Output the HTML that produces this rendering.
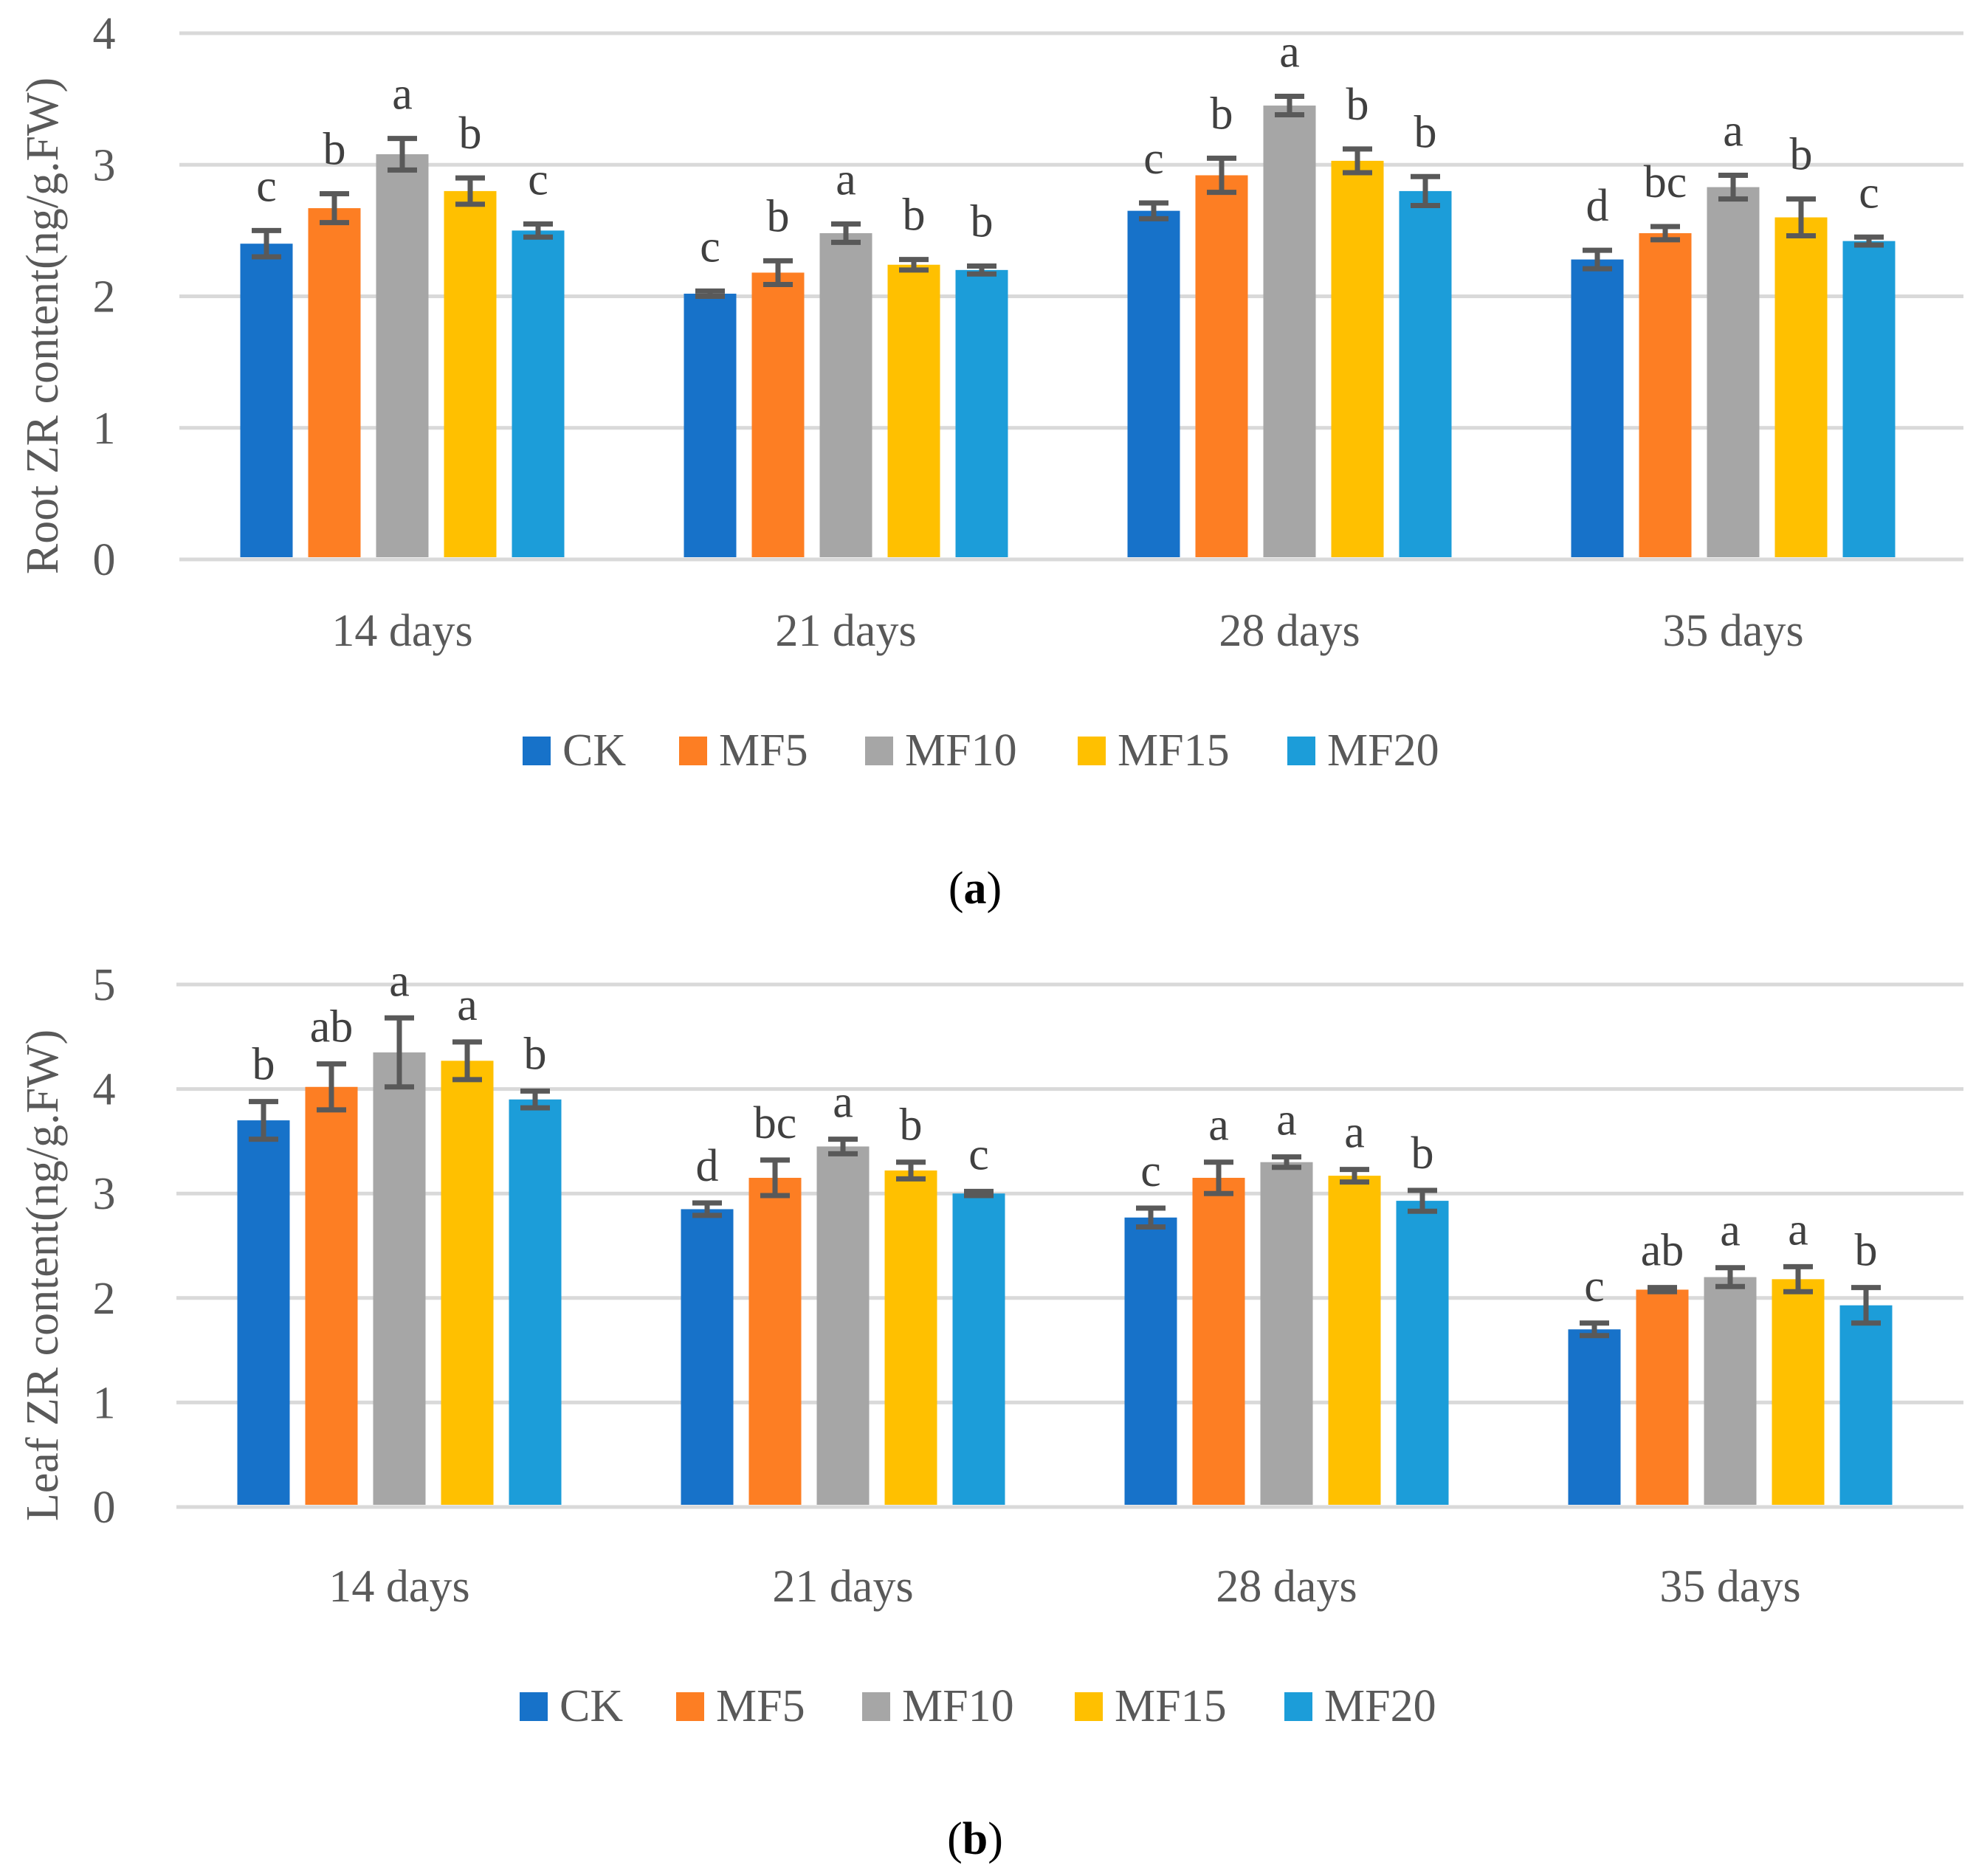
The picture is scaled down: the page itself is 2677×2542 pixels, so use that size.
<!DOCTYPE html>
<html><head><meta charset="utf-8"><style>
html,body{margin:0;padding:0;background:#fff}
svg{display:block;font-family:"Liberation Serif",serif}
</style></head><body>
<svg id="fig" width="2677" height="2542" viewBox="0 0 2677 2542" xmlns="http://www.w3.org/2000/svg"></svg>
<script>
const categories = ["14 days","21 days","28 days","35 days"];
const seriesNames = ["CK","MF5","MF10","MF15","MF20"];
const colors = ["#1772c9","#fd7e23","#a6a6a6","#ffc000","#1c9dd9"];
const rootVals = [[2.40,2.67,3.08,2.80,2.50],[2.02,2.18,2.48,2.24,2.20],[2.65,2.92,3.45,3.03,2.80],[2.28,2.48,2.83,2.60,2.42]];
const rootErr = [[0.10,0.11,0.12,0.10,0.05],[0.02,0.09,0.07,0.04,0.03],[0.06,0.13,0.07,0.09,0.11],[0.07,0.05,0.09,0.14,0.03]];
const rootLetters = [["c","b","a","b","c"],["c","b","a","b","b"],["c","b","a","b","b"],["d","bc","a","b","c"]];
const rootTicks = [0,1,2,3,4];
const leafVals = [[3.70,4.02,4.35,4.27,3.90],[2.85,3.15,3.45,3.22,3.00],[2.77,3.15,3.30,3.17,2.93],[1.70,2.08,2.20,2.18,1.93]];
const leafErr = [[0.18,0.22,0.33,0.18,0.08],[0.06,0.17,0.07,0.08,0.02],[0.09,0.15,0.05,0.06,0.10],[0.06,0.02,0.09,0.12,0.17]];
const leafLetters = [["b","ab","a","a","b"],["d","bc","a","b","c"],["c","a","a","a","b"],["c","ab","a","a","b"]];
const leafTicks = [0,1,2,3,4,5];

const NS="http://www.w3.org/2000/svg";
const svg=document.getElementById('fig');
function el(tag,attrs,parent){const e=document.createElementNS(NS,tag);for(const k in attrs)e.setAttribute(k,attrs[k]);(parent||svg).appendChild(e);return e;}

function drawChart(cfg){
  const g=el('g',{});
  
  
  const x0=cfg.left,x1=2660,yTop=cfg.top,yBot=cfg.bottom,maxV=cfg.ticks[cfg.ticks.length-1];
  const y=v=>yBot-(v/maxV)*(yBot-yTop);
  const groupW=601;
  const gx=i=>x0+302+groupW*i;
  cfg.ticks.forEach(t=>{
    const ln=el('line',{x1:x0,x2:x1,y1:y(t),y2:y(t),stroke:'#d9d9d9','stroke-width':5},g);
    
    
    const tx=el('text',{x:141,y:y(t)+21,'text-anchor':'middle','font-size':62,fill:'#595959'},g);
    tx.textContent=t;
    
    
  });
  const yt=el('text',{x:0,y:0,'text-anchor':'middle','font-size':62,fill:'#595959',transform:`translate(78,${(yTop+yBot)/2+40}) rotate(-90)`},g);
  yt.textContent=cfg.title;
  
  
  const pitch=92,bw=71;
  categories.forEach((c,i)=>{
    const cx=gx(i);
    const xl=el('text',{x:cx,y:cfg.xLabelY,'text-anchor':'middle','font-size':62,fill:'#595959'},g);
    xl.textContent=c;
    
    
    seriesNames.forEach((s,j)=>{
      const bc=cx+(j-2)*pitch;
      const v=cfg.vals[i][j],e=cfg.err[i][j];
      const r=el('rect',{x:bc-bw/2,y:y(v),width:bw,height:yBot-3-y(v),fill:colors[j]},g);
      
      
      const eb=el('path',{d:`M${bc-20},${y(v+e)}H${bc+20}M${bc},${y(v+e)}V${y(v-e)}M${bc-20},${y(v-e)}H${bc+20}`,stroke:'#595959','stroke-width':7,fill:'none'},g);
      
      
      const lt=el('text',{x:bc,y:y(v+e)-cfg.letterGap,'text-anchor':'middle','font-size':62,fill:'#404040'},g);
      lt.textContent=cfg.letters[i][j];
      
      
    });
  });
  const lx=[708,920,1172,1460,1744];
  seriesNames.forEach((s,j)=>{
    const lg=el('g',{},g);
    
    
    el('rect',{x:lx[j]+cfg.legDx,y:cfg.legY,width:38,height:39,fill:colors[j]},lg);
    const t=el('text',{x:lx[j]+cfg.legDx+54,y:cfg.legY+39,'font-size':62,fill:'#595959'},lg);
    t.textContent=s;
  });
  const cap=el('text',{x:1321,y:cfg.capY,'text-anchor':'middle','font-size':62,fill:'#000'},g);
  cap.innerHTML='(<tspan font-weight="bold">'+cfg.cap+'</tspan>)';
  
  
}
drawChart({name:'root-zr-chart',left:243,top:45,bottom:758,ticks:rootTicks,vals:rootVals,err:rootErr,letters:rootLetters,title:'Root ZR content(ng/g.FW)',xLabelY:875,legY:998,legDx:0,capY:1224,cap:'a',letterGap:40});
drawChart({name:'leaf-zr-chart',left:239,top:1334,bottom:2042,ticks:leafTicks,vals:leafVals,err:leafErr,letters:leafLetters,title:'Leaf ZR content(ng/g.FW)',xLabelY:2170,legY:2293,legDx:-4,capY:2512,cap:'b',letterGap:30});
</script>
</body></html>
